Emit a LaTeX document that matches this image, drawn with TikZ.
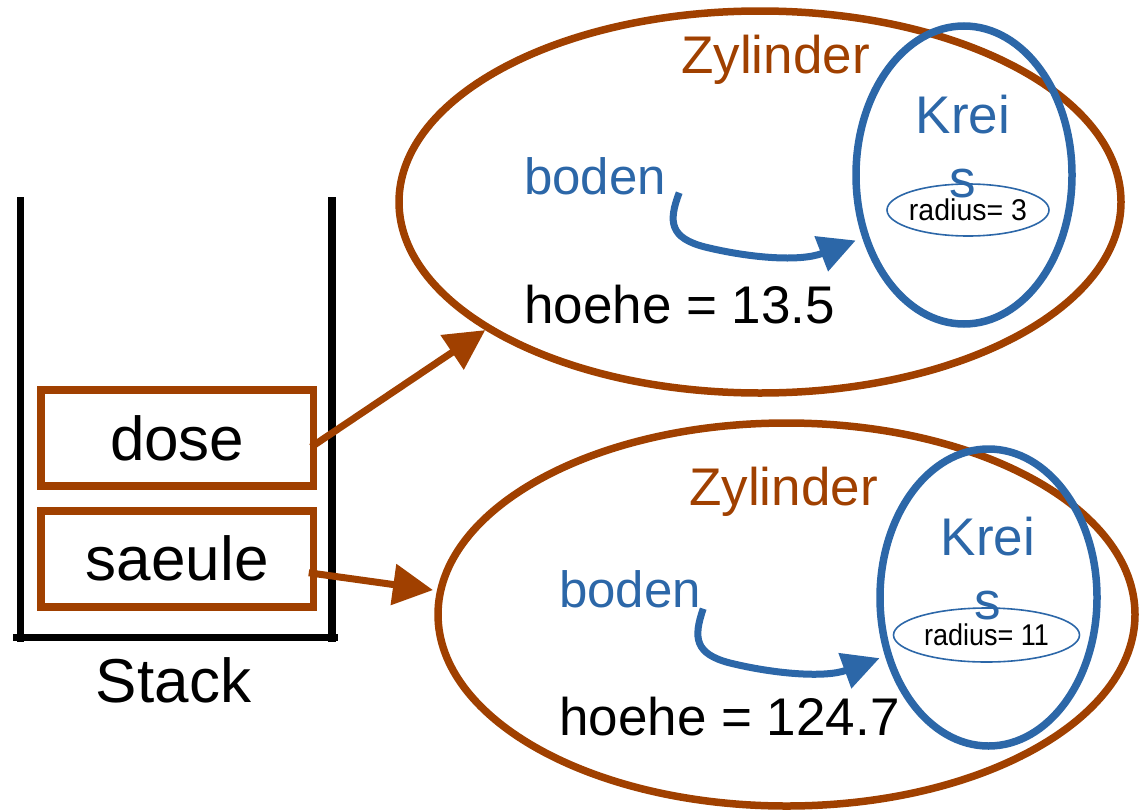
\documentclass[tikz,border=0pt]{standalone}
\usepackage{fontspec}
\setmainfont{Liberation Sans}
\usetikzlibrary{shapes.geometric,arrows.meta}
\definecolor{braun}{RGB}{160,64,0}
\definecolor{blau}{RGB}{44,103,168}
\newcommand{\schrift}[2]{\fontsize{#1pt}{#2pt}\selectfont}

\begin{document}
\begin{tikzpicture}[x = 1pt, y = 1pt, wand/.style = {draw=black,line width=7.5pt}, rahmen/.style = {draw=braun,line width=7.5pt,minimum width=272.5pt,minimum height=96pt,inner sep=0pt,font=\schrift{62}{74}}, zylinder/.style = {ellipse,draw=braun,line width=7.5pt,inner sep=0pt}, kreis/.style = {ellipse,draw=blau,line width=7.5pt,inner sep=0pt,minimum width=216pt,minimum height=298pt}, radius/.style = {ellipse,draw=blau,line width=1.6pt,inner sep=0pt,font=\schrift{30}{36}}, titel/.style = {text=braun,anchor=base west,inner sep=0pt,font=\schrift{53}{64}}, feld/.style = {text=blau,anchor=base west,inner sep=0pt,font=\schrift{51}{61}}, wert/.style = {anchor=base west,inner sep=0pt,font=\schrift{53}{64}}, kname/.style = {text=blau,anchor=north,align=center,inner sep=0pt,font=\schrift{53}{64}}, pfeil/.style = {draw=braun,line width=7pt,-{Triangle[length=40pt,width=40pt]}}, zeiger/.style = {draw=blau,line width=7pt,-{Triangle[length=37pt,width=36pt]}},]
		\useasboundingbox (0,0) rectangle (1147,-811);
		
		\draw[wand] (20.5,-197) -- (20.5,-642);
		\draw[wand] (332,-197) -- (332,-642);
		\draw[wand] (13,-637.5) -- (338,-637.5);
		\node[font=\schrift{62}{74},anchor=base,inner sep=0pt] (stack) at (173.5,-702) {Stack};
		
		\node[rahmen] (dose) at (177.25,-438) {dose};
		\node[rahmen] (saeule) at (177.25,-558.75) {saeule};
		
		\node[zylinder,minimum width=722pt,minimum height=382pt] (zyl1) at (760,-202) {};
		\node[zylinder,minimum width=697pt,minimum height=383pt] (zyl2) at (786.5,-614.5) {};
		
		\node[kreis] (kreis1) at (964,-175) {};
		\node[kreis,minimum width=217pt,minimum height=297pt] (kreis2) at (988.5,-597.5) {};
		
		\node[titel] (titel1) at (681,-73) {Zylinder};
		\node[titel] (titel2) at (689,-505) {Zylinder};
		\node[feld] (boden1) at (524,-194) {boden};
		\node[feld] (boden2) at (559,-607) {boden};
		\node[wert] (hoehe1) at (524,-323) {hoehe = 13.5};
		\node[wert] (hoehe2) at (559,-735) {hoehe = 124.7};
		\node[kname] (kname1) at (963,-95) {Krei\\s};
		\node[kname] (kname2) at (988,-517) {Krei\\s};
		\node[radius,minimum width=162pt,minimum height=52pt] (radius1) at (968,-210) {\makebox[0pt]{\scalebox{0.95}[1]{radius= 3}}};
		\node[radius,minimum width=186pt,minimum height=54pt] (radius2) at (986.5,-635) {\makebox[0pt]{\scalebox{0.9}[1]{radius= 11}}};
		
		\draw[pfeil] ([shift={(-6pt,-9pt)}]dose.east) -- (zyl1.205);
		\draw[pfeil] ([shift={(-8.5pt,-14pt)}]saeule.east) -- ([xshift=-4pt]zyl2.176);
		\draw[zeiger] ([shift={(13pt,2pt)}]boden1.south east) .. controls (668,-222) and (670,-238) .. (705,-247) .. controls (750,-258) and (800,-262) .. ([shift={(-6pt,-4pt)}]kreis1.211);
		\draw[zeiger] ([shift={(2pt,-1pt)}]boden2.south east) .. controls (693,-638) and (695,-654) .. (730,-663) .. controls (775,-674) and (825,-678) .. ([shift={(-5pt,-3pt)}]kreis2.209);
	\end{tikzpicture}
\end{document}
